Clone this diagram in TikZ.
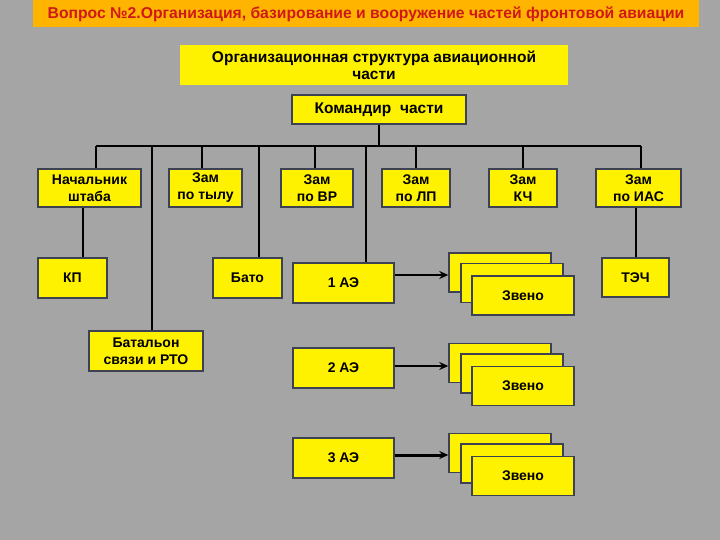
\documentclass[tikz,border=0pt]{standalone}
\usepackage{fontspec}
\setmainfont{Liberation Sans}
\usetikzlibrary{arrows.meta}
\definecolor{slidegray}{HTML}{A5A5A5}
\definecolor{titlebar}{HTML}{FFB400}
\definecolor{titlered}{HTML}{D01818}
\definecolor{boxline}{HTML}{3C4252}

\begin{document}
\begin{tikzpicture}[x=1pt, y=-1pt,
    box/.style 2 args={draw=boxline, line width=1.4pt, fill=yellow, inner sep=0pt,
        minimum width=#1, minimum height=#2, align=center, font=\bfseries\fontsize{14}{17}\selectfont},
    link/.style={line width=1.8pt, black},
    arr/.style={line width=1.8pt, black, -{Stealth[length=9pt, width=8pt]}}]

    % background and heading
    \fill[slidegray] (0,0) rectangle (720,540);
    \fill[titlebar] (33,0) rectangle (699,27);
    \node[font=\bfseries\fontsize{15.7}{18}\selectfont, text=titlered] (title) at (366,14)
        {Вопрос №2.Организация, базирование и вооружение частей фронтовой авиации};
    \node[fill=yellow, inner sep=0pt, minimum width=388, minimum height=40, align=center,
        font=\bfseries\fontsize{15.5}{17}\selectfont] (head) at (374,65)
        {Организационная структура авиационной\\части};

    % top levels
    \node[box={174}{29}, font=\bfseries\fontsize{15.5}{17}\selectfont] (cmd) at (379,109.5) {Командир\ \ части};
    \node[box={103}{38}] (nsh) at (89.5,188) {Начальник\\штаба};
    \node[box={73}{38}] (tyl) at (205.5,188) {Зам\\по тылу};
    \node[box={72}{38}] (vr) at (317,188) {Зам\\по ВР};
    \node[box={68}{38}] (lp) at (416,188) {Зам\\по ЛП};
    \node[box={68}{38}] (kch) at (523,188) {Зам\\КЧ};
    \node[box={85}{38}] (ias) at (638.5,188) {Зам\\по ИАС};

    % lower units
    \node[box={69}{40}] (kp) at (72.5,278) {КП};
    \node[box={69}{40}] (bato) at (247.5,278) {Бато};
    \node[box={67}{39}] (tech) at (635.5,277.5) {ТЭЧ};
    \node[box={114}{40}] (svyaz) at (146,351) {Батальон\\связи и РТО};
    \node[box={101}{40}] (ae1) at (343.5,283) {1 АЭ};
    \node[box={101}{40}] (ae2) at (343.5,368) {2 АЭ};
    \node[box={101}{40}] (ae3) at (343.5,458) {3 АЭ};

    % stacks of flights
    \foreach \y/\i in {272.5/1, 363/2, 453/3} {
        \node[box={102}{39}] (zb\i) at (500,\y) {};
        \node[box={102}{39}] (zm\i) at (512,\y+10.5) {};
        \node[box={102}{39}] (zf\i) at (523,\y+23) {Звено};
    }

    % bus line under the commander
    \coordinate (busL) at (96,146);
    \coordinate (busR) at (641,146);
    \draw[link] (busL) -- (busR);
    \draw[link] (cmd.south) -- (cmd.south |- busL);
    \draw[link] (busL) -- (busL |- nsh.north);
    \foreach \n/\x in {tyl/202, vr/315, lp/416, kch/523, ias/641} {
        \coordinate (t\n) at (\x,146);
        \draw[link] (t\n) -- (t\n |- \n.north);
    }
    \foreach \n/\x in {svyaz/152, bato/259, ae1/366} {
        \coordinate (d\n) at (\x,146);
        \draw[link] (d\n) -- (d\n |- \n.north);
    }
    \draw[link] ([xshift=-6.5pt]nsh.south) coordinate (dkp) -- (dkp |- kp.north);
    \draw[link] ([xshift=0.5pt]tech.north) coordinate (dtech) -- (dtech |- ias.south);

    % squadrons to flights
    \draw[arr] (ae1.east |- zb1.west) ++(0,2.5) coordinate (a1) -- (a1 -| zb1.west);
    \draw[arr] (ae2.east |- zb2.west) ++(0,3) coordinate (a2) -- (a2 -| zb2.west);
    \draw[arr, line width=3pt] (ae3.east |- zb3.west) ++(0,2) coordinate (a3) -- (a3 -| zb3.west);

\end{tikzpicture}
\end{document}
